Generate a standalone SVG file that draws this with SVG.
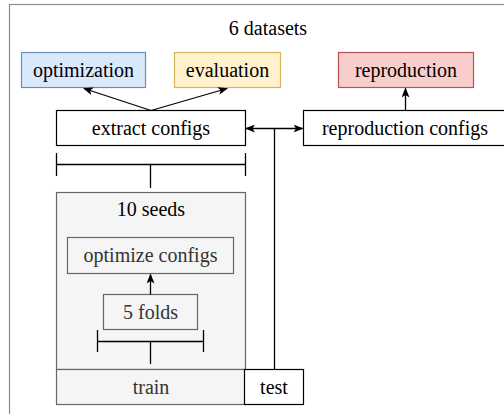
<svg xmlns="http://www.w3.org/2000/svg" width="504" height="414" viewBox="0 0 504 414">
  <defs>
    <marker id="arrow" viewBox="0 0 10 8" refX="9" refY="4" markerWidth="10" markerHeight="8" markerUnits="userSpaceOnUse" orient="auto-start-reverse">
      <path d="M0,0 L10,4 L0,8 L2.5,4 Z" fill="#000"/>
    </marker>
    <style>
      .t { font-family: "Liberation Serif", serif; font-size: 20px; text-anchor: middle; fill: #000; }
      .gray-text { fill: #333; }
      .box { fill: #fff; stroke: #000; stroke-width: 1.2; }
      .gray { fill: #f5f5f5; stroke: #666; stroke-width: 1.2; }
      .blue { fill: #dae8fc; stroke: #6c8ebf; stroke-width: 1.2; }
      .yellow { fill: #fff2cc; stroke: #d6b656; stroke-width: 1.2; }
      .red { fill: #f8cecc; stroke: #b85450; stroke-width: 1.2; }
      .edge { fill: none; stroke: #000; stroke-width: 1.3; }
    </style>
  </defs>

  <rect width="504" height="414" fill="#fff"/>

  <!-- dataset container -->
  <g id="datasets">
    <rect x="9.5" y="4.5" width="510" height="430" fill="#fff" stroke="#8c8c8c" stroke-width="1.2"/>
    <text class="t" x="268" y="35">6 datasets</text>
  </g>

  <g id="optimization">
    <rect class="blue" x="21.5" y="52.5" width="124" height="35"/>
    <text class="t" x="83.5" y="77">optimization</text>
  </g>

  <g id="evaluation">
    <rect class="yellow" x="174.5" y="52.5" width="106" height="35"/>
    <text class="t" x="227.5" y="77">evaluation</text>
  </g>

  <g id="reproduction">
    <rect class="red" x="338.5" y="52.5" width="135" height="35"/>
    <text class="t" x="406" y="77">reproduction</text>
  </g>

  <g id="extract-configs">
    <rect class="box" x="56.5" y="110.5" width="189" height="35"/>
    <text class="t" x="151" y="135">extract configs</text>
  </g>

  <g id="reproduction-configs">
    <rect class="box" x="303.5" y="110.5" width="203" height="35"/>
    <text class="t" x="405" y="135">reproduction configs</text>
  </g>

  <g id="seeds">
    <rect class="gray" x="56.5" y="192.5" width="189" height="177"/>
    <text class="t" x="151" y="216">10 seeds</text>
  </g>

  <g id="optimize-configs">
    <rect class="gray" x="67.5" y="237.5" width="166" height="36"/>
    <text class="t gray-text" x="150.5" y="262">optimize configs</text>
  </g>

  <g id="folds">
    <rect class="gray" x="103.5" y="294.5" width="94" height="35"/>
    <text class="t gray-text" x="150.5" y="319">5 folds</text>
  </g>

  <g id="train">
    <rect class="gray" x="56.5" y="369.5" width="189" height="35"/>
    <text class="t gray-text" x="151" y="394">train</text>
  </g>

  <g id="test">
    <rect class="box" x="244.5" y="369.5" width="59" height="35"/>
    <text class="t" x="274" y="394">test</text>
  </g>

  <g id="connectors">
    <path class="edge" d="M151,110.5 L84,88.5" marker-end="url(#arrow)"/>
    <path class="edge" d="M151,110.5 L227,88.5" marker-end="url(#arrow)"/>
    <path class="edge" d="M405.5,110.5 V88.5" marker-end="url(#arrow)"/>
    <path class="edge" d="M246,128.5 H302.5" marker-start="url(#arrow)" marker-end="url(#arrow)"/>
    <path class="edge" d="M274.5,128.5 V369.5"/>
    <!-- split bracket below extract configs -->
    <path class="edge" d="M56.5,153 V176 M245.5,153 V176 M56.5,164.5 H245.5 M150.5,164.5 V188"/>
    <path class="edge" d="M150.5,294.5 V274.5" marker-end="url(#arrow)"/>
    <!-- split bracket below folds -->
    <path class="edge" d="M97.5,330 V352 M203.5,330 V352 M97.5,341.5 H203.5 M150.5,341.5 V364"/>
  </g>
</svg>
